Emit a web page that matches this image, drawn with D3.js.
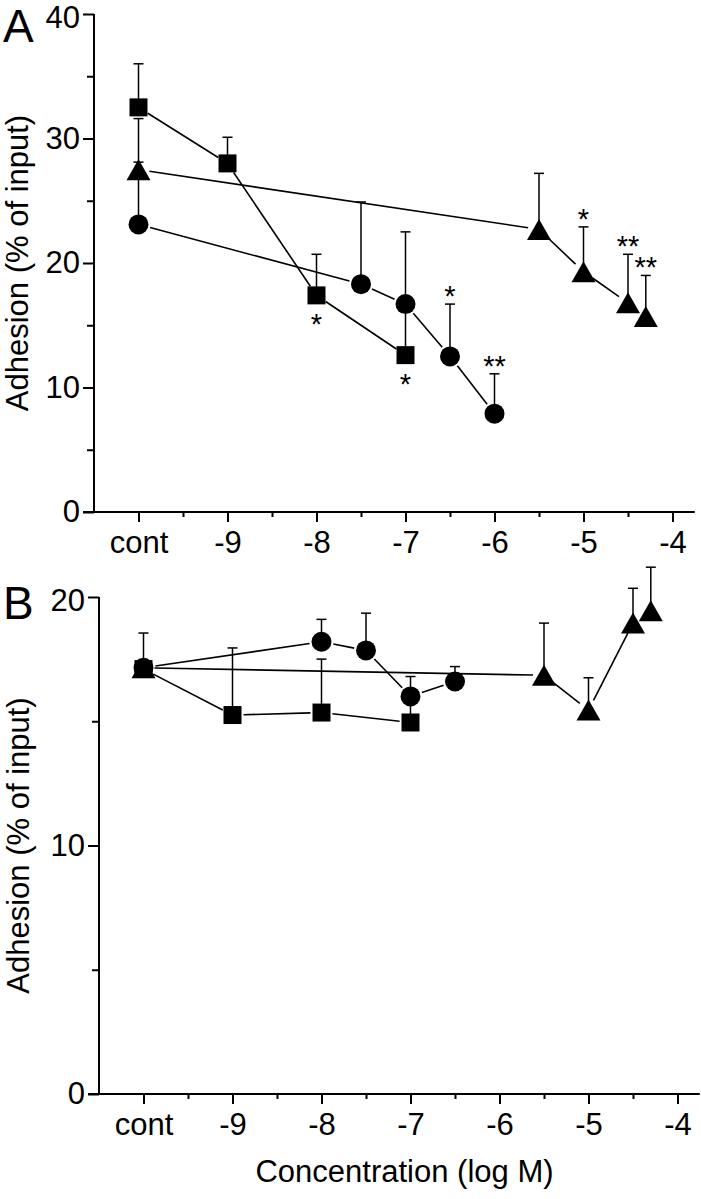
<!DOCTYPE html>
<html><head><meta charset="utf-8">
<script src="https://cdn.jsdelivr.net/npm/d3@7"></script>
<style>
body{margin:0;background:#fff}
svg{display:block}
text{font-family:"Liberation Sans",Arial,Helvetica,sans-serif;fill:#000}
</style>
</head><body>
<svg id="chart" width="701" height="1199"></svg>
<script>
// ---------- data ----------
const xTickValues = [-10, -9, -8, -7, -6, -5, -4];
const xTickLabels = ["cont", "-9", "-8", "-7", "-6", "-5", "-4"];
const xMinorValues = [-9.5, -8.5, -7.5, -6.5, -5.5, -4.5];

// Panel A
const aYTicks = [0, 10, 20, 30, 40];
const aYMinor = [5, 15, 25, 35];
const aSquareX = [-10, -9, -8, -7];
const aSquareMean = [32.5, 28.0, 17.4, 12.6];
const aSquareSem = [3.5, 2.1, 3.3, 4.0];
const aCircleX = [-10, -7.5, -7, -6.5, -6];
const aCircleMean = [23.1, 18.3, 16.7, 12.5, 7.9];
const aCircleSem = [5.0, 6.6, 5.8, 4.2, 3.2];
const aTriangleX = [-10, -5.5, -5, -4.5, -4.3];
const aTriangleMean = [27.5, 22.7, 19.3, 16.8, 15.7];
const aTriangleSem = [4.1, 4.5, 3.6, 3.9, 3.3];
// significance marks: series, x value, label, placement
const aStars = [
  {series: "square", x: -8, label: "*", pos: "below"},
  {series: "square", x: -7, label: "*", pos: "below"},
  {series: "circle", x: -6.5, label: "*", pos: "above"},
  {series: "circle", x: -6, label: "**", pos: "above"},
  {series: "triangle", x: -5, label: "*", pos: "above"},
  {series: "triangle", x: -4.5, label: "**", pos: "above"},
  {series: "triangle", x: -4.3, label: "**", pos: "above"}
];

// Panel B
const bYTicks = [0, 10, 20];
const bYMinor = [5, 15];
const bSquareX = [-10, -9, -8, -7];
const bSquareMean = [17.1, 15.25, 15.35, 14.95];
const bSquareSem = [1.45, 2.7, 2.15, 1.0];
const bCircleX = [-10, -8, -7.5, -7, -6.5];
const bCircleMean = [17.15, 18.2, 17.85, 16.0, 16.6];
const bCircleSem = [0.3, 0.9, 1.5, 0.8, 0.6];
const bTriangleX = [-10, -5.5, -5, -4.5, -4.3];
const bTriangleMean = [17.15, 16.85, 15.45, 18.95, 19.45];
const bTriangleSem = [0.1, 2.1, 1.3, 1.4, 1.75];

const yLabel = "Adhesion (% of input)";
const xLabel = "Concentration (log M)";

// ---------- drawing ----------
const svg = d3.select("#chart");
const FS = 31;

function zip(xs, ms, ss){ return xs.map((x,i)=>({x, m: ms[i], s: ss[i]})); }

function markerPath(type){
  if(type === "square"){ const h = 9; return `M${-h},${-h}H${h}V${h}H${-h}Z`; }
  if(type === "triangle"){ const w = 12, h = 10.5; return `M0,${-h}L${w},${h}L${-w},${h}Z`; }
  return d3.symbol(d3.symbolCircle, Math.PI*10*10)();
}
const trimR = {square: 11, circle: 12, triangle: 11};

function panel(cfg){
  const g = svg.append("g");
  const x = d3.scaleLinear().domain([-10.5, -3.75]).range([cfg.left, cfg.left + 89*6.75]);
  const y = d3.scaleLinear().domain(cfg.yDomain).range([cfg.bottom, cfg.top]);

  // y axis
  const yAxis = d3.axisLeft(y).tickValues(cfg.yTicks).tickSize(11).tickPadding(3).tickFormat(d3.format("d"));
  const ya = g.append("g").attr("transform", `translate(${cfg.left},0)`).call(yAxis);
  ya.select(".domain").attr("d", `M0,${cfg.top}V${cfg.bottom}`).attr("stroke-width", 2);
  ya.selectAll(".tick line").attr("stroke-width", 2);
  ya.selectAll(".tick text").attr("font-size", FS).attr("font-family", "Liberation Sans, Arial, sans-serif");
  // top label sits slightly lower, as in the original
  ya.selectAll(".tick text").filter(d=>d===cfg.yDomain[1]).attr("y", 4);
  const yMinor = d3.axisLeft(y).tickValues(cfg.yMinor).tickSize(7).tickFormat("");
  const ym = g.append("g").attr("transform", `translate(${cfg.left},0)`).call(yMinor);
  ym.select(".domain").remove();
  ym.selectAll(".tick line").attr("stroke-width", 2);

  // x axis
  const xAxis = d3.axisBottom(x).tickValues(xTickValues).tickSize(10).tickPadding(9)
    .tickFormat((d,i)=>xTickLabels[i]);
  const xa = g.append("g").attr("transform", `translate(0,${cfg.bottom})`).call(xAxis);
  xa.select(".domain").attr("d", `M${cfg.left - 11},0H${x(-3.75)}`).attr("stroke-width", 2);
  xa.selectAll(".tick line").attr("stroke-width", 2);
  xa.selectAll(".tick text").attr("font-size", FS).attr("font-family", "Liberation Sans, Arial, sans-serif");
  const xMinor = d3.axisBottom(x).tickValues(xMinorValues).tickSize(5).tickFormat("");
  const xm = g.append("g").attr("transform", `translate(0,${cfg.bottom})`).call(xMinor);
  xm.select(".domain").remove();
  xm.selectAll(".tick line").attr("stroke-width", 2);

  // y label
  g.append("text").attr("transform", `translate(${cfg.ylabX},${(cfg.top+cfg.bottom)/2}) rotate(-90)`)
    .attr("text-anchor", "middle").attr("font-size", FS).text(yLabel);
  // panel letter
  g.append("text").attr("x", 3).attr("y", cfg.letterY).attr("font-size", 46).text(cfg.letter);

  const series = cfg.series;
  // connecting lines (trimmed)
  series.forEach(s=>{
    const pts = s.data.map(d=>[x(d.x), y(d.m)]);
    for(let i=0;i<pts.length-1;i++){
      const [x0,y0] = pts[i], [x1,y1] = pts[i+1];
      const dx = x1-x0, dy = y1-y0, L = Math.hypot(dx,dy);
      const r = trimR[s.type];
      if(L <= 2*r+2) continue;
      const ux = dx/L, uy = dy/L;
      g.append("line").attr("x1", x0+ux*r).attr("y1", y0+uy*r)
        .attr("x2", x1-ux*r).attr("y2", y1-uy*r)
        .attr("stroke", "#000").attr("stroke-width", 1.6);
    }
  });
  // error bars (upper)
  series.forEach(s=>{
    s.data.forEach(d=>{
      const cx = x(d.x), yt = y(d.m + d.s);
      g.append("line").attr("x1", cx).attr("x2", cx).attr("y1", y(d.m)).attr("y2", yt)
        .attr("stroke", "#000").attr("stroke-width", 1.5);
      g.append("line").attr("x1", cx-5).attr("x2", cx+5).attr("y1", yt).attr("y2", yt)
        .attr("stroke", "#000").attr("stroke-width", 1.5);
    });
  });
  // markers
  series.forEach(s=>{
    g.selectAll(null).data(s.data).enter().append("path")
      .attr("d", markerPath(s.type))
      .attr("transform", d=>`translate(${x(d.x)},${y(d.m)})`)
      .attr("fill", "#000");
  });
  // stars
  (cfg.stars||[]).forEach(st=>{
    const s = series.find(q=>q.type===st.series);
    const d = s.data.find(q=>q.x===st.x);
    const cx = x(d.x);
    const cy = st.pos === "above" ? y(d.m + d.s) - 15 : y(d.m) + 22;
    g.append("text").attr("x", cx).attr("y", cy + 17).attr("text-anchor", "middle")
      .attr("font-size", 29).text(st.label);
  });
  return {x, y};
}

panel({
  letter: "A", letterY: 42, ylabX: 28,
  left: 94, top: 14, bottom: 512, yDomain: [0, 40], yTicks: aYTicks, yMinor: aYMinor,
  series: [
    {type: "triangle", data: zip(aTriangleX, aTriangleMean, aTriangleSem)},
    {type: "circle", data: zip(aCircleX, aCircleMean, aCircleSem)},
    {type: "square", data: zip(aSquareX, aSquareMean, aSquareSem)}
  ],
  stars: aStars
});

const pB = panel({
  letter: "B", letterY: 619, ylabX: 29,
  left: 99, top: 597, bottom: 1094, yDomain: [0, 20], yTicks: bYTicks, yMinor: bYMinor,
  series: [
    {type: "square", data: zip(bSquareX, bSquareMean, bSquareSem)},
    {type: "circle", data: zip(bCircleX, bCircleMean, bCircleSem)},
    {type: "triangle", data: zip(bTriangleX, bTriangleMean, bTriangleSem)}
  ]
});

svg.append("text").attr("x", pB.x(-7) - 6).attr("y", 1182).attr("text-anchor", "middle")
  .attr("font-size", FS).text(xLabel);
</script>
</body></html>
